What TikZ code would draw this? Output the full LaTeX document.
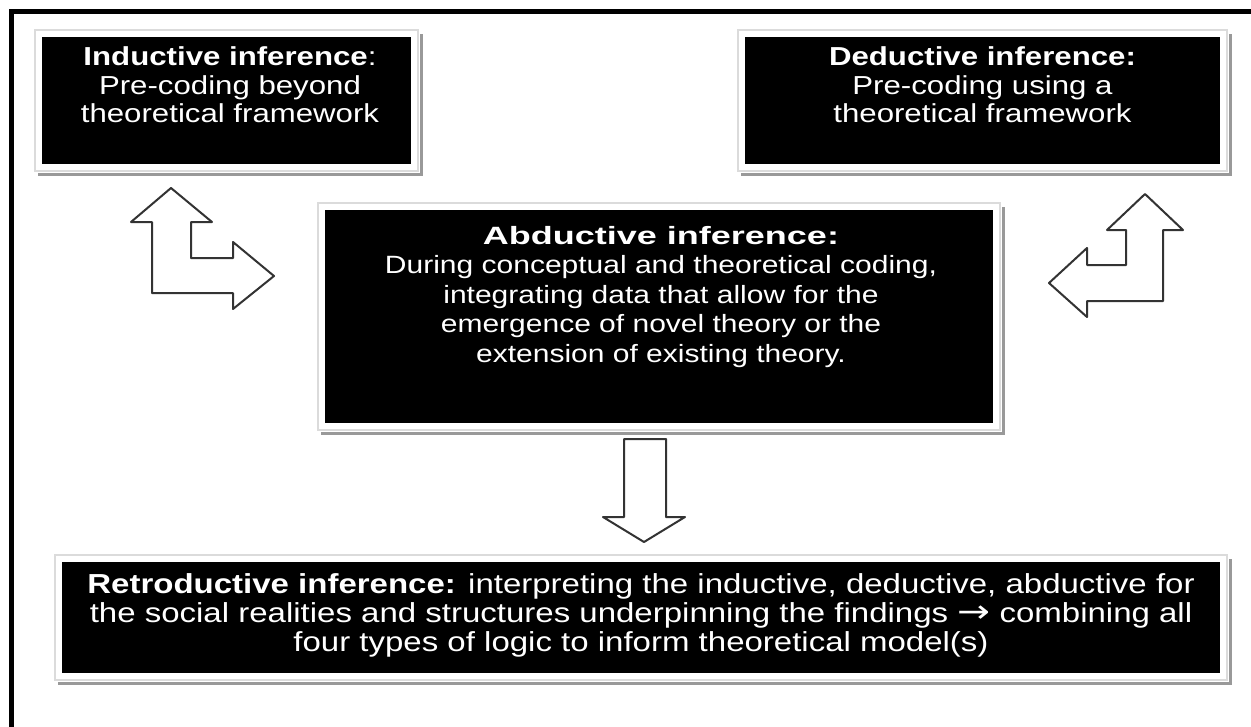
\documentclass[tikz,border=0pt]{standalone}
\usepackage{graphicx}
\usepackage{fontspec}
\setmainfont{Liberation Sans}[FakeStretch=1.2]
\newfontfamily\arrowfont{DejaVu Sans}[FakeStretch=1.1]
\usetikzlibrary{calc}
\begin{document}
\begin{tikzpicture}[x=1pt,y=-1pt,
  blackbox/.style={fill=black,draw=none,inner sep=0pt,outer sep=0pt},
  frameline/.style={draw=black!14,line width=1.2pt},
  shadowline/.style={draw=black!40,line width=3pt},
  boxtext/.style={text=white,align=center,inner sep=0pt,font=\fontsize{26}{28.5}\selectfont},
  blockarrow/.style={draw=black!80,line width=2pt,line join=round,fill=white}]
\useasboundingbox (0,0) rectangle (1251,726);
\fill[white] (0,0) rectangle (1251,726);
% outer frame (left and top edges)
\draw[line width=5pt] (11,728) -- (11,11) -- (1253,11);

% ---- boxes ----
\node[blackbox,minimum width=369pt,minimum height=127pt] (ind) at (226.5,100.5) {};
\node[blackbox,minimum width=475pt,minimum height=127pt] (ded) at (982.5,100.5) {};
\node[blackbox,minimum width=668pt,minimum height=213pt] (abd) at (659,316.5) {};
\node[blackbox,minimum width=1158pt,minimum height=111pt] (ret) at (641,617.5) {};

% frames with drop shadow around each box
\foreach \b in {ind,ded,abd,ret}{
  \draw[shadowline] ($(\b.north east)+(10,-3)$) -- ($(\b.south east)+(10,10)$) -- ($(\b.south west)+(-4,10)$);
  \draw[frameline] ($(\b.north west)+(-7,-7)$) rectangle ($(\b.south east)+(7,7)$);
}

% ---- texts ----
\node[boxtext] (indt) at (230,85) {\textbf{Inductive inference}:\\Pre-coding beyond\\theoretical framework};
\node[boxtext] (dedt) at (982.5,85) {\textbf{Deductive inference:}\\Pre-coding using a\\theoretical framework};
\node[boxtext,font=\fontsize{25}{29.5}\selectfont] (abdt) at (661,297) {\scalebox{1.2}[1]{\textbf{Abductive inference:}}\\During conceptual and theoretical coding,\\integrating data that allow for the\\emergence of novel theory or the\\extension of existing theory.};
\node[boxtext,font=\fontsize{27.5}{29}\selectfont] (rett) at (641,615) {\textbf{Retroductive inference:} interpreting the inductive, deductive, abductive for\\the social realities and structures underpinning the findings \scalebox{1.3}[1.15]{\arrowfont →} combining all\\four types of logic to inform theoretical model(s)};

% ---- block arrows ----
% up/right bent arrow
\draw[blockarrow] (171,188) -- (212,222) -- (191,222) -- (191,258) -- (233,258) -- (233,242)
  -- (274,276) -- (233,309) -- (233,293) -- (152,293) -- (152,222) -- (131,222) -- cycle;
% up/left bent arrow
\draw[blockarrow] (1145,194) -- (1183,230) -- (1163,230) -- (1163,301) -- (1087,301) -- (1087,317)
  -- (1049,283) -- (1087,248) -- (1087,265) -- (1126,265) -- (1126,230) -- (1107,230) -- cycle;
% down arrow
\draw[blockarrow] (624,439) -- (666,439) -- (666,517) -- (685,517) -- (644,542) -- (603,517)
  -- (624,517) -- cycle;
\end{tikzpicture}
\end{document}
